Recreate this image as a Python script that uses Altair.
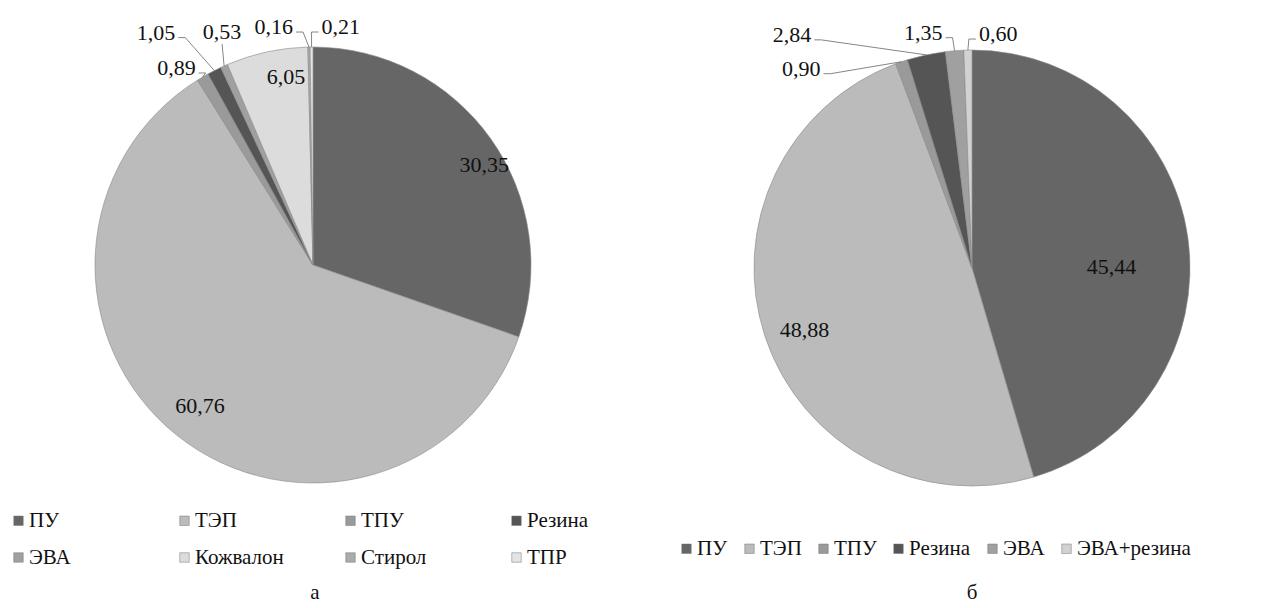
import altair as alt
import pandas as pd

# ---- data ----
cats_a = ["ПУ", "ТЭП", "ТПУ", "Резина", "ЭВА", "Кожвалон", "Стирол", "ТПР"]
vals_a = [30.35, 60.76, 0.89, 1.05, 0.53, 6.05, 0.16, 0.21]

cats_b = ["ПУ", "ТЭП", "ТПУ", "Резина", "ЭВА", "ЭВА+резина"]
vals_b = [45.44, 48.88, 0.90, 2.84, 1.35, 0.60]

# ---- styles ----
colors_a = ["#666666", "#bbbbbb", "#9a9a9a", "#555555", "#a0a0a0", "#dcdcdc", "#ababab", "#e4e4e4"]
colors_b = ["#666666", "#bbbbbb", "#9a9a9a", "#555555", "#a0a0a0", "#d2d2d2"]

# label placement: (kind, radius factor, angle shift deg, dx, dy, align)
place_a = [("in", 0.91, 5, 0, 0, "center"), ("in", 0.83, 0, 0, 0, "center"),
           ("out", 0, 0, -7, -9, "right"), ("out", 0, 0, -39, -38, "right"),
           ("out", 0, 0, -2, -34, "center"), ("in", 0.87, 4, 0, 0, "center"),
           ("out", 0, 0, -16, -20, "right"), ("out", 0, 0, 10, -20, "left")]
place_b = [("in", 0.64, 8, 0, 0, "center"), ("in", 0.82, -2, 0, 0, "center"),
           ("out", 0, 0, -81, 7, "right"), ("out", 0, 0, -115, -20, "right"),
           ("out", 0, 0, -12, -18, "right"), ("out", 0, 0, 11, -16, "left")]

FONT = "Liberation Serif"
FS = 22
LFS = 21
R = 218


def panel(cats, vals, colors, place, cx, cy, w, h, legend, caption, cap_x):
    df = pd.DataFrame({
        "cat": cats, "value": vals, "idx": list(range(len(cats))),
        "kind": [p[0] for p in place], "rf": [p[1] for p in place],
        "da": [p[2] for p in place],
        "dx": [p[3] for p in place], "dy": [p[4] for p in place],
        "align": [p[5] for p in place],
    })
    base = (
        alt.Chart(df)
        .transform_joinaggregate(total="sum(value)")
        .transform_window(cum="sum(value)", sort=[alt.SortField("idx")], frame=[None, 0])
        .transform_calculate(
            mid="2*PI*(datum.cum - datum.value/2)/datum.total",
            lbl="replace(format(datum.value, '.2f'), '.', ',')",
        )
        .transform_calculate(
            ex=f"{cx} + {R}*sin(datum.mid)",
            ey=f"{cy} - {R}*cos(datum.mid)",
            la="datum.mid + datum.da*PI/180",
        )
        .transform_calculate(
            tx=f"datum.kind == 'in' ? {cx} + datum.rf*{R}*sin(datum.la) : datum.ex + datum.dx",
            ty=f"datum.kind == 'in' ? {cy} - datum.rf*{R}*cos(datum.la) : datum.ey + datum.dy",
        )
        .transform_calculate(
            p2x="datum.align == 'right' ? datum.tx + 3 : (datum.align == 'left' ? datum.tx - 3 : datum.tx)",
            p2y="datum.align == 'center' ? datum.ty + 12 : datum.ty + 5",
            p1x="datum.align == 'right' ? datum.tx + 10 : (datum.align == 'left' ? datum.tx - 10 : datum.tx)",
        )
    )

    arcs = base.mark_arc(outerRadius=R, stroke="#8a8a8a", strokeWidth=0.6).encode(
        theta=alt.Theta("value:Q", stack=True),
        order=alt.Order("idx:Q"),
        color=alt.Color("cat:N", scale=alt.Scale(domain=cats, range=colors), legend=legend),
        x=alt.value(cx),
        y=alt.value(cy),
    )

    outs = base.transform_filter("datum.kind == 'out'")
    lead1 = outs.mark_rule(color="#666666", strokeWidth=0.8).encode(
        x=alt.X("ex:Q", scale=None, axis=None), y=alt.Y("ey:Q", scale=None, axis=None),
        x2="p1x:Q", y2="p2y:Q",
    )
    lead2 = outs.mark_rule(color="#666666", strokeWidth=0.8).encode(
        x=alt.X("p1x:Q", scale=None, axis=None), y=alt.Y("p2y:Q", scale=None, axis=None),
        x2="p2x:Q", y2="p2y:Q",
    )

    texts = []
    for al in ["center", "right", "left"]:
        texts.append(
            base.transform_filter(f"datum.align == '{al}'")
            .mark_text(align=al, baseline="middle", font=FONT, fontSize=FS, color="#111111")
            .encode(x=alt.X("tx:Q", scale=None, axis=None),
                    y=alt.Y("ty:Q", scale=None, axis=None),
                    text="lbl:N")
        )

    cap = alt.Chart(pd.DataFrame({"t": [caption]})).mark_text(
        font=FONT, fontSize=LFS, color="#111111", baseline="middle"
    ).encode(text="t:N", x=alt.value(cap_x), y=alt.value(585))

    return alt.layer(arcs, lead1, lead2, *texts, cap).properties(width=w, height=h)


legend_a = alt.Legend(
    orient="none", legendX=0, legendY=502, columns=4, direction="horizontal",
    title=None, symbolType="square", symbolSize=90, symbolStrokeColor="#777777",
    symbolStrokeWidth=0.5, labelFont=FONT, labelFontSize=LFS, labelColor="#111111",
    gridAlign="all", columnPadding=56, rowPadding=15, labelOffset=0, padding=0,
)
legend_b = alt.Legend(
    orient="none", legendX=36, legendY=530, columns=6, direction="horizontal",
    title=None, symbolType="square", symbolSize=90, symbolStrokeColor="#777777",
    symbolStrokeWidth=0.5, labelFont=FONT, labelFontSize=LFS, labelColor="#111111",
    gridAlign="each", columnPadding=11, labelOffset=0, padding=0,
)

pa = panel(cats_a, vals_a, colors_a, place_a, 305, 257, 632, 592, legend_a, "а", 307)
pb = panel(cats_b, vals_b, colors_b, place_b, 332, 260, 621, 592, legend_b, "б", 332)

chart = (
    alt.hconcat(pa, pb, spacing=0)
    .resolve_scale(color="independent")
    .resolve_legend(color="independent")
    .properties(padding=0)
    .configure(font=FONT)
    .configure_legend(labelFont=FONT, labelFontSize=LFS)
    .configure_view(strokeWidth=0)
)

chart.save("out.html", embed_options={"renderer": "svg", "actions": False})
